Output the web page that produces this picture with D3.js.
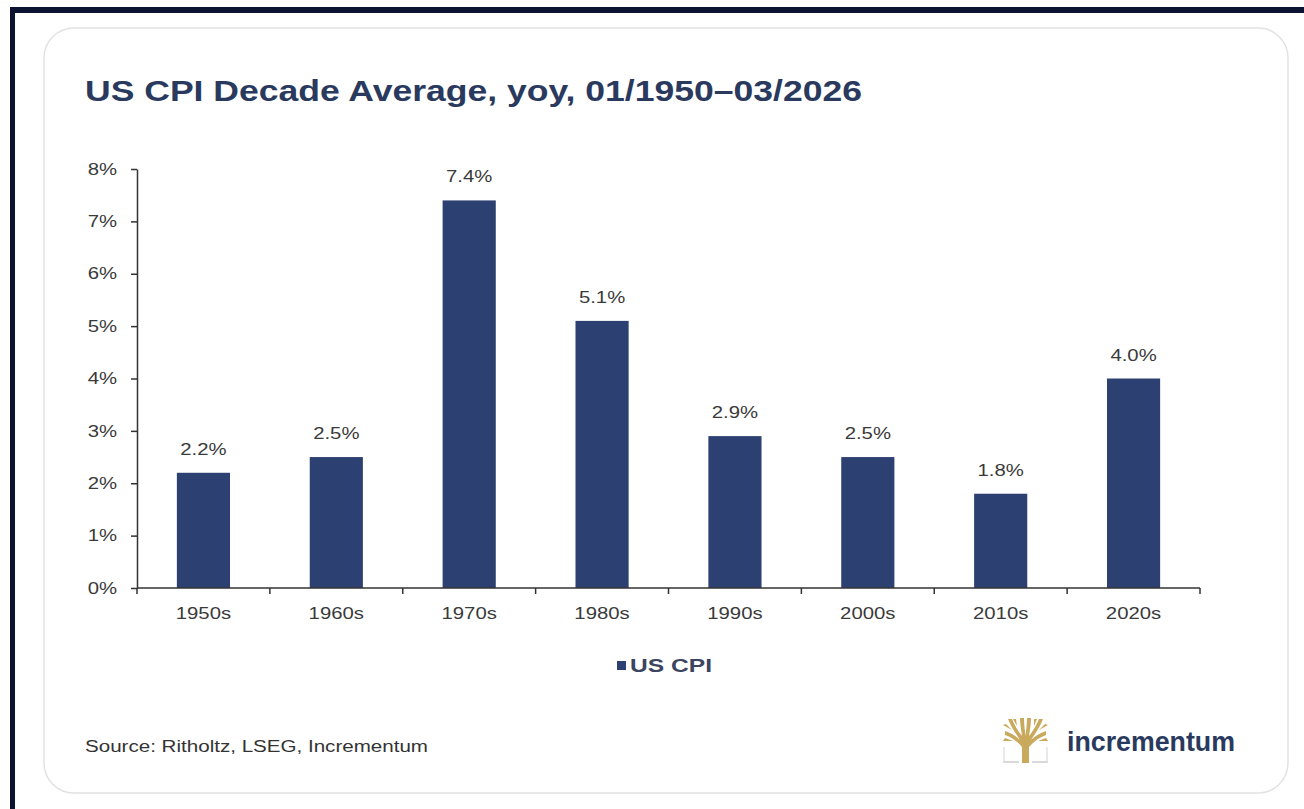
<!DOCTYPE html>
<html>
<head>
<meta charset="utf-8">
<script src="https://cdn.jsdelivr.net/npm/d3@7"></script>
<style>
  html, body { margin: 0; padding: 0; background: #ffffff; }
  svg { display: block; }
  text { font-family: "Liberation Sans", Arial, sans-serif; }
</style>
</head>
<body>
<svg id="chart" width="1304" height="809"></svg>
<script>
// Decade averages of US CPI, year over year
const decades = ["1950s", "1960s", "1970s", "1980s", "1990s", "2000s", "2010s", "2020s"];
const cpiValues = [2.2, 2.5, 7.4, 5.1, 2.9, 2.5, 1.8, 4.0];
const yTicks = [0, 1, 2, 3, 4, 5, 6, 7, 8];
const seriesName = "US CPI";

const svg = d3.select("#chart");

// widen glyphs horizontally (the layout uses a wide, slightly stretched type)
function widen(sel, k) {
  sel.each(function () {
    const w = this.getComputedTextLength();
    d3.select(this).attr("textLength", w * k).attr("lengthAdjust", "spacingAndGlyphs");
  });
}
function fitTo(sel, w) {
  sel.attr("textLength", w).attr("lengthAdjust", "spacingAndGlyphs");
}

// dark outer frame
svg.append("rect").attr("x", 10).attr("y", 7).attr("width", 1400).attr("height", 900)
  .attr("fill", "#0c1330");
svg.append("rect").attr("x", 15).attr("y", 13).attr("width", 1400).attr("height", 900)
  .attr("fill", "#ffffff");

// card
svg.append("rect").attr("x", 44).attr("y", 28).attr("width", 1244).attr("height", 765)
  .attr("rx", 30).attr("ry", 30)
  .attr("fill", "#ffffff").attr("stroke", "#e2e2e2").attr("stroke-width", 1.5);

// title
fitTo(svg.append("text").attr("x", 85).attr("y", 101)
  .attr("font-size", 29).attr("font-weight", "bold").attr("fill", "#2a3a5e")
  .text("US CPI Decade Average, yoy, 01/1950\u201303/2026"), 777);

const margin = { left: 137, right: 1200, top: 169, bottom: 588 };

const x = d3.scaleBand().domain(decades).range([margin.left, margin.right]).padding(0);
const y = d3.scaleLinear().domain([0, 8]).range([margin.bottom, margin.top]);
const barW = x.bandwidth() * 0.4;

const axisColor = "#333333";
const labelColor = "#3a3a3a";
const stretchK = 1.27;

// bars
svg.append("g").selectAll("rect").data(decades).join("rect")
  .attr("x", (d) => x(d) + (x.bandwidth() - barW) / 2)
  .attr("y", (d, i) => y(cpiValues[i]))
  .attr("width", barW)
  .attr("height", (d, i) => y(0) - y(cpiValues[i]))
  .attr("fill", "#2c4071");

// value labels
widen(svg.append("g").selectAll("text").data(decades).join("text")
  .attr("x", (d) => x(d) + x.bandwidth() / 2)
  .attr("y", (d, i) => y(cpiValues[i]) - 18)
  .attr("text-anchor", "middle")
  .attr("font-size", 16).attr("fill", labelColor)
  .text((d, i) => cpiValues[i].toFixed(1) + "%"), stretchK);

// y axis
const yAxis = svg.append("g").attr("transform", `translate(${margin.left},0)`)
  .call(d3.axisLeft(y).tickValues(yTicks).tickSize(6).tickSizeOuter(0).tickPadding(14)
    .tickFormat((d) => d + "%"));
yAxis.select(".domain").attr("stroke", axisColor).attr("stroke-width", 1.5);
yAxis.selectAll(".tick line").attr("stroke", axisColor).attr("stroke-width", 1.5);
widen(yAxis.selectAll(".tick text").attr("font-size", 16).attr("fill", labelColor)
  .attr("font-family", "Liberation Sans, Arial, sans-serif"), stretchK);

// x axis with ticks on band boundaries
const xAxisG = svg.append("g").attr("transform", `translate(0,${margin.bottom})`);
xAxisG.append("line").attr("x1", margin.left).attr("x2", margin.right)
  .attr("stroke", axisColor).attr("stroke-width", 1.5);
const boundaries = decades.map((d) => x(d)).concat([margin.right]);
xAxisG.selectAll("line.tk").data(boundaries).join("line").attr("class", "tk")
  .attr("x1", (d) => d).attr("x2", (d) => d).attr("y1", 0).attr("y2", 6)
  .attr("stroke", axisColor).attr("stroke-width", 1.5);
widen(xAxisG.selectAll("text").data(decades).join("text")
  .attr("x", (d) => x(d) + x.bandwidth() / 2)
  .attr("y", 31)
  .attr("text-anchor", "middle")
  .attr("font-size", 16).attr("fill", labelColor)
  .text((d) => d), stretchK);

// legend
const legend = svg.append("g");
legend.append("rect").attr("x", 617).attr("y", 661).attr("width", 9).attr("height", 9)
  .attr("fill", "#2c4071");
fitTo(legend.append("text").attr("x", 630).attr("y", 672)
  .attr("font-size", 19).attr("font-weight", "bold").attr("fill", "#3b4560")
  .text(seriesName), 82);

// source note
fitTo(svg.append("text").attr("x", 85).attr("y", 752)
  .attr("font-size", 16).attr("fill", "#333333")
  .text("Source: Ritholtz, LSEG, Incrementum"), 343);

// brand mark: tree icon
const logo = svg.append("g").attr("transform", "translate(1003,717)");
const gold = "#c9a95c";
logo.append("line").attr("x1", 0).attr("y1", 45).attr("x2", 16).attr("y2", 45)
  .attr("stroke", "#d9d9d9").attr("stroke-width", 2);
logo.append("line").attr("x1", 29).attr("y1", 45).attr("x2", 45).attr("y2", 45)
  .attr("stroke", "#d9d9d9").attr("stroke-width", 2);
logo.append("line").attr("x1", 1).attr("y1", 30).attr("x2", 1).attr("y2", 45)
  .attr("stroke", "#e2e2e2").attr("stroke-width", 1.5);
logo.append("line").attr("x1", 44).attr("y1", 30).attr("x2", 44).attr("y2", 45)
  .attr("stroke", "#e2e2e2").attr("stroke-width", 1.5);
logo.append("path")
  .attr("d", "M19,46 L19,30 C14,24 8,20 2,18 L2,14 C8,16 13,19 17,23 C12,15 8,10 5,2 L9,2 C12,9 15,14 19,19 C18,12 17,7 17,1 L21,1 C21,8 22,14 22.5,19 C23,14 24,8 24,1 L28,1 C28,7 27,12 26,19 C30,14 33,9 36,2 L40,2 C37,10 33,15 28,23 C32,19 37,16 43,14 L43,18 C37,20 31,24 26,30 L26,46 Z")
  .attr("fill", gold);
logo.append("path")
  .attr("d", "M10,2 L13,2 L14,9 Z M31,2 L34,2 L31,9 Z M0,8 L3,7 L9,13 Z M45,8 L42,7 L36,13 Z M0,24 L2,21 L10,24 Z M45,24 L43,21 L35,24 Z")
  .attr("fill", gold);

fitTo(svg.append("text").attr("x", 1067).attr("y", 751)
  .attr("font-size", 27).attr("font-weight", "bold").attr("fill", "#2a3a5e")
  .text("incrementum"), 168);
</script>
</body>
</html>
